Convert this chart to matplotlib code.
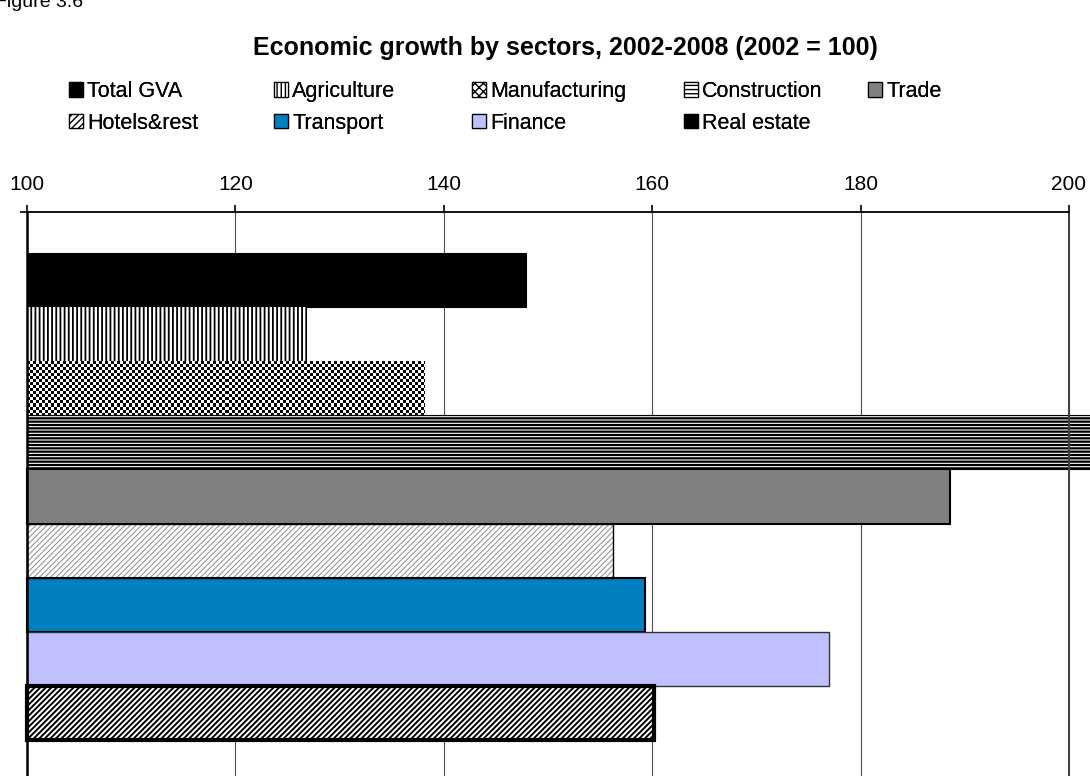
import matplotlib
matplotlib.use("Agg")
import matplotlib.pyplot as plt
from matplotlib.patches import Patch
import numpy as np

plt.rcParams['font.family'] = ['Liberation Sans', 'DejaVu Sans']

# data (2002 = 100)
sectors = ["Total GVA", "Agriculture", "Manufacturing", "Construction", "Trade",
           "Hotels&rest", "Transport", "Finance", "Real estate"]
values = [147.9, 126.9, 138.1, 203.0, 188.6, 156.2, 159.3, 177.0, 160.2]
base = 100
xticks = [100, 120, 140, 160, 180, 200]

# looks per sector: face, edge, edge width, hatch, hatch width
styles = [
    ("black", "black", 0.8, None, 1.0),
    ("white", "black", 0.0, "||||", 1.3),
    ("white", "#444444", 0.6, None, 1.0),   # checker added below
    ("white", "black", 0.8, "-----", 1.6),
    ("#808080", "black", 1.5, None, 1.0),
    ("white", "#8a8a8a", 0.0, "//////", 0.7),
    ("#0080C0", "black", 1.5, None, 1.0),
    ("#C0C0FF", "#333333", 1.0, None, 1.0),
    ("white", "black", 3.0, "//////", 1.4),
]
# small legend keys
keys = [
    ("black", None), ("white", "||||"), ("white", "xxxx"), ("white", "----"),
    ("#808080", None), ("white", "/////"), ("#0080C0", None), ("#C0C0FF", None),
    ("black", None),
]

fig = plt.figure(figsize=(10.9, 7.76), dpi=100)
ax_w, ax_h = 1042, 569   # axes size in pixels
ax = fig.add_axes([27/1090, -5/776, ax_w/1090, ax_h/776])
ylo, yhi = 9.258, -1.258

pos = np.arange(len(sectors))
for i, (name, v, st) in enumerate(zip(sectors, values, styles)):
    fc, ec, lw, hatch, hlw = st
    with plt.rc_context({'hatch.linewidth': hlw}):
        b = ax.barh(pos[i], v - base, left=base, height=1.0, color=fc,
                    edgecolor=ec, linewidth=lw, hatch=hatch, label=name,
                    clip_on=False, zorder=3)
    if name == "Hotels&rest":
        ax.barh(pos[i], v - base, left=base, height=1.0, facecolor="none",
                edgecolor="black", linewidth=1.0, zorder=4, clip_on=False)
    if name == "Manufacturing":
        # checkerboard texture (3 px cells) clipped to the bar
        nx, ny = ax_w // 3, ax_h // 3
        chk = np.add.outer(np.arange(ny), np.arange(nx)) % 2
        x1 = 100 + 100 * (3 * nx) / ax_w
        y1 = yhi + (ylo - yhi) * (3 * ny) / ax_h
        im = ax.imshow(chk, cmap='gray', extent=(100, x1, y1, yhi),
                       aspect='auto', interpolation='nearest', zorder=3.5)
        im.set_clip_path(b.patches[0])

ax.set_xlim(100, 200)
ax.set_ylim(ylo, yhi)
ax.xaxis.tick_top()
ax.set_xticks(xticks)
ax.set_xticklabels([str(t) for t in xticks], fontsize=15)
ax.tick_params(axis='x', direction='out', length=5, width=1.2, pad=8, colors='black')
ax.set_yticks([yhi])
ax.set_yticklabels([])
ax.tick_params(axis='y', direction='out', length=5, width=1.2)
ax.grid(axis='x', color='#505050', linewidth=0.8, zorder=0)
ax.set_axisbelow(True)
ax.spines['bottom'].set_visible(False)
ax.spines['left'].set_linewidth(1.8)
ax.spines['top'].set_linewidth(1.3)
ax.spines['right'].set_linewidth(1.5)
ax.spines['right'].set_color('#404040')
for s in ax.spines.values():
    s.set_zorder(5)

fig.text(565/1090, 1 - 48/776, "Economic growth by sectors, 2002-2008 (2002 = 100)",
         ha='center', va='center', fontsize=18, fontweight='bold')
fig.text(-5/1090, 1 - 7/776, "Figure 3.6", ha='left', va='baseline', fontsize=14)

# legend, filled row by row like the original
handles = []
with plt.rc_context({'hatch.linewidth': 1.0}):
    for fc, h in keys:
        handles.append(Patch(facecolor=fc, edgecolor='black', linewidth=0.9, hatch=h))
col_x = [69, 274, 472, 684, 868]
ncol = 5
for c in range(ncol):
    idx = [k for k in (c, c + ncol) if k < len(handles)]
    leg = fig.legend([handles[k] for k in idx], [sectors[k] for k in idx],
                     loc='upper left', bbox_to_anchor=(col_x[c]/1090, 1 - 81/776),
                     frameon=False, fontsize=15.5, borderpad=0, borderaxespad=0,
                     handlelength=0.65, handleheight=0.65, handletextpad=0.2,
                     labelspacing=0.5)
    fig.add_artist(leg)

fig.savefig("out.png", dpi=100)
